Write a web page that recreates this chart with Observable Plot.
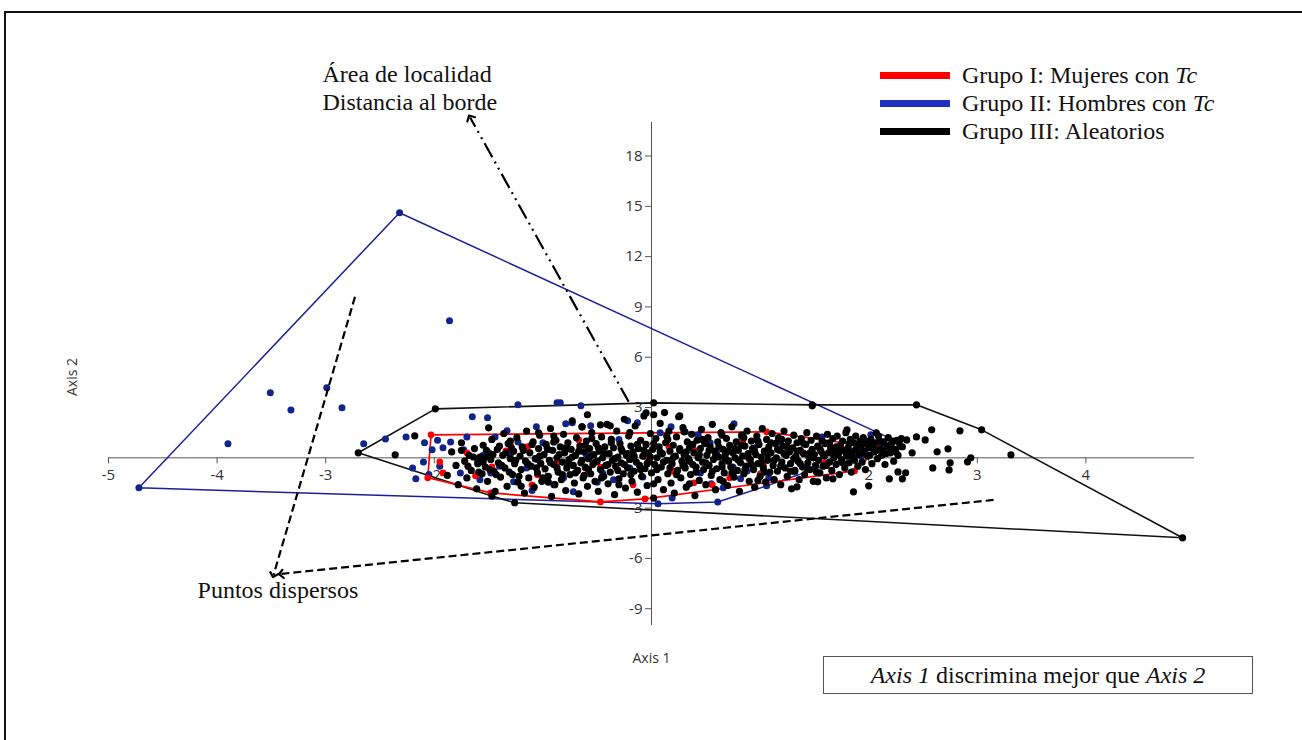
<!DOCTYPE html>
<html>
<head>
<meta charset="utf-8">
<script src="https://cdn.jsdelivr.net/npm/d3@7"></script>
<script src="https://cdn.jsdelivr.net/npm/@observablehq/plot@0.6"></script>
<style>
  body { margin: 0; background: #fff; }
  #wrap { position: relative; width: 1302px; height: 740px; overflow: hidden; background: #fff; }
  #frame { position: absolute; left: 4px; top: 11px; width: 1400px; height: 800px; border: 2px solid #111; }
  #chart { position: absolute; left: 0; top: 0; }
  .serif { font-family: "Liberation Serif", "Times New Roman", serif; font-size: 24px; color: #111; }
  #legend { position: absolute; left: 880px; top: 61px; }
  .lg-row { display: flex; align-items: center; height: 28px; }
  .lg-sw { width: 70px; height: 7px; margin-right: 12px; }
  #box { position: absolute; left: 823px; top: 656px; width: 428px; height: 36px; border: 1px solid #555;
         display: flex; align-items: center; justify-content: center; }
</style>
</head>
<body>
<div id="wrap">
  <div id="frame"></div>
  <div id="chart"></div>
  <div id="legend" class="serif"></div>
  <div id="box" class="serif"><span><i>Axis 1</i> discrimina mejor que <i>Axis 2</i></span></div>
</div>
<script>
// ---- tick values ----
const xTicks = [-5, -4, -3, -2, -1, 1, 2, 3, 4];
const yTicks = [-9, -6, -3, 3, 6, 9, 12, 15, 18];

// ---- legend ----
const groupNames = ["Grupo I: Mujeres con ", "Grupo II: Hombres con ", "Grupo III: Aleatorios"];
const groupItalic = ["Tc", "Tc", ""];
const groupColors = ["#ff0000", "#1f2fbf", "#000000"];

// ---- convex hulls (Axis 1, Axis 2) ----
const redHull = [[-2.03, 1.37], [1.06, 1.55], [2.09, 0.60], [1.87, -0.78], [-0.06, -2.45], [-0.47, -2.63], [-1.48, -2.09], [-2.06, -1.19]];
const blueHull = [[-4.72, -1.79], [-2.32, 14.62], [2.25, 1.01], [2.10, 0.66], [1.06, -1.67], [0.61, -2.63], [0.06, -2.74]];
const blackHull = [[-2.70, 0.30], [-1.99, 2.92], [0.02, 3.28], [1.48, 3.16], [2.44, 3.16], [3.04, 1.67], [4.89, -4.77], [-1.26, -2.68], [-1.47, -2.27]];

// ---- points ----
const bluePts = [
  [-3.51, 3.88], [-3.32, 2.86], [-3.90, 0.84], [-2.99, 4.18], [-2.85, 2.98], [-1.86, 8.17], [-4.72, -1.79], [-2.32, 14.62],
  [2.25, 1.01], [2.10, 0.66], [1.06, -1.67], [0.61, -2.63], [0.06, -2.74],
  [-2.65, 0.84], [-2.45, 1.13], [-2.26, 1.25], [-2.17, -1.25], [-2.09, 0.90], [-2.10, -0.25], [-2.20, -0.60], [-2.02, 0.48],
  [-1.85, 0.95], [-1.73, 0.48], [-1.76, -0.90], [-1.48, -0.90], [-1.27, -1.43], [-0.81, -1.19], [-0.72, -2.03], [-0.35, -1.31],
  [-1.05, -0.10], [-0.95, 0.48], [-1.23, 0.95], [-1.44, 1.25], [-1.23, 3.16], [-0.87, 3.28], [-0.84, 3.28], [-0.65, 3.10],
  [-1.65, 2.45], [-1.51, 2.39], [-1.33, 1.61], [-1.06, 1.85], [-0.79, 2.03], [-0.73, 2.09], [-0.56, 1.91], [-0.22, 2.21], [-0.13, 2.09],
  [0.76, 2.03], [0.83, 1.25], [1.16, 0.95], [1.57, 1.25], [1.32, -0.84], [1.08, -1.19], [0.66, -1.79], [0.82, -1.25], [0.55, -1.55],
  [0.19, -2.39], [0.18, 1.85], [0.31, 1.55], [0.43, 1.37], [0.54, 0.90], [0.08, 1.49], [-0.03, 0.06], [0.05, -0.60], [-0.08, -1.15],
  [0.45, -0.90], [0.88, -0.78], [0.75, -0.55], [2.02, 1.37], [1.93, 0.10],
  [-1.92, 0.60], [-1.95, -0.50], [-1.60, -0.20], [-1.55, 0.15], [-1.40, -0.50], [-1.30, 0.20], [-1.15, -0.60], [-1.00, 0.90],
  [-0.90, -1.60], [-0.60, 0.20], [-0.45, -0.90], [-0.30, 1.10], [-0.20, -0.60], [0.30, -0.40], [0.60, 0.30], [0.95, 0.60],
  [-1.58, -1.30], [-1.10, -1.95], [-0.50, -1.45], [-2.05, -1.00], [-1.97, 1.05], [-1.70, 1.25]
];

const redPts = [
  [-2.03, 1.37], [1.06, 1.55], [2.09, 0.60], [1.87, -0.78], [-0.06, -2.45], [-0.47, -2.63], [-1.48, -2.09], [-2.06, -1.19],
  [-1.95, -0.24], [-1.92, -0.90], [-1.62, -1.07], [-1.47, -0.54], [-1.30, 0.78], [-1.34, 0.42], [-1.14, 0.66], [-1.05, -1.01],
  [-0.87, -0.30], [-0.67, 1.07], [-0.61, -0.60], [-0.17, 0.06], [-0.47, -0.55], [-0.17, -1.61], [-1.10, -1.61], [0.39, -1.49],
  [0.56, -1.61], [0.72, -1.19], [1.00, -1.01], [1.03, -0.42], [0.84, 0.95], [-0.06, 0.06], [0.16, 0.66], [0.39, 0.48],
  [-0.80, 0.40], [0.20, -0.80], [1.40, 0.30], [1.60, -0.30], [-1.70, 0.30], [0.90, -0.10]
];

const blackPts = [
  [-2.70, 0.30], [-1.99, 2.92], [0.02, 3.28], [1.48, 3.16], [2.44, 3.16], [3.04, 1.67], [4.89, -4.77], [-1.26, -2.68], [-1.47, -2.27],
  [-2.36, 0.18], [-2.18, 1.31],
  [2.44, 1.25], [2.52, 1.07], [2.58, 1.67], [2.84, 1.61], [2.73, 0.54], [2.63, 0.36], [2.59, -0.60], [2.74, -0.72], [2.75, -0.30],
  [2.91, -0.24], [2.94, 0.00], [3.31, 0.18], [2.40, 0.30], [2.35, 1.07], [2.31, 0.66], [2.27, -0.84], [2.34, -0.89], [2.31, -1.25],
  [2.19, -1.25], [2.00, -1.67], [1.86, -2.03], [1.53, -1.43], [1.34, -1.73], [1.67, -1.25], [1.48, 3.10], [2.07, 1.49], [1.80, 1.67],
  [0.02, 2.57], [0.12, 2.70], [0.26, 2.50], [-0.59, 2.57], [-0.05, 2.68], [-0.47, 1.97], [-1.50, 1.79], [-1.04, 1.49], [-0.64, 1.85], [-0.38, 1.91],
  [-1.88, -1.05], [-1.84, 0.35], [-1.80, -0.45], [-1.78, -1.60], [-1.75, 0.90], [-1.72, -0.20], [-1.70, -1.20], [-1.68, 0.15], [-1.66, -0.75], [-1.63, 0.55], [-1.61, -1.85], [-1.60, -0.35],
  [-1.58, 0.05], [-1.56, -0.95], [-1.55, 0.75], [-1.53, -0.55], [-1.51, -1.40], [-1.50, 0.30], [-1.48, -0.10], [-1.47, 1.10], [-1.45, -0.80], [-1.44, -2.00], [-1.42, 0.50], [-1.41, -0.30], [-1.39, -1.15], [-1.37, 0.15], [-1.36, 1.45], [-1.35, -0.60], [-1.33, -1.70], [-1.32, 0.85], [-1.30, -0.05],
  [-1.28, -1.00], [-1.27, 0.40], [-1.26, -0.35], [-1.24, 1.20], [-1.23, -1.45], [-1.21, 0.10], [-1.20, -0.70], [-1.19, 0.65], [-1.17, -2.10], [-1.16, -0.20], [-1.15, 1.60], [-1.13, -1.20], [-1.12, 0.30], [-1.11, -0.50], [-1.09, 0.95], [-1.08, -1.75], [-1.07, -0.05], [-1.05, -0.90], [-1.04, 0.55], [-1.03, 1.35], [-1.02, -0.35], [-1.01, -1.40],
  [-0.99, 0.20], [-0.98, -0.65], [-0.97, 0.80], [-0.95, -1.10], [-0.94, -0.15], [-0.93, 1.75], [-0.92, -2.30], [-0.91, 0.45], [-0.90, -0.40], [-0.89, -1.60], [-0.88, 1.05], [-0.87, 0.00], [-0.86, -0.85], [-0.84, 0.65], [-0.83, -1.30], [-0.82, -0.25], [-0.81, 1.40], [-0.80, 0.30], [-0.79, -1.95], [-0.78, -0.60], [-0.77, 0.90], [-0.76, -0.10], [-0.75, -1.00], [-0.74, 0.50], [-0.73, 2.20], [-0.72, -0.45], [-0.71, -1.50],
  [-0.70, 0.15], [-0.69, 1.20], [-0.68, -0.75], [-0.67, -2.15], [-0.66, 0.70], [-0.65, -0.30], [-0.64, 1.85], [-0.63, -1.20], [-0.62, 0.35], [-0.61, -0.55], [-0.60, 1.00], [-0.59, -1.70], [-0.58, -0.05], [-0.57, 0.55], [-0.56, -0.95], [-0.55, 1.50], [-0.54, -0.40], [-0.53, 0.20], [-0.52, -1.40], [-0.51, 0.85], [-0.50, -0.20], [-0.49, -2.00], [-0.48, 0.40], [-0.47, -0.70], [-0.46, 1.25], [-0.45, 0.00], [-0.44, -1.10], [-0.43, 0.65], [-0.42, -0.45], [-0.41, 2.00],
  [-0.40, -1.55], [-0.39, 0.25], [-0.38, -0.85], [-0.37, 1.10], [-0.36, -0.15], [-0.35, 0.60], [-0.34, -2.20], [-0.33, -0.50], [-0.32, 1.60], [-0.31, 0.05], [-0.30, -1.25], [-0.29, 0.85], [-0.28, -0.30], [-0.27, 0.40], [-0.26, -0.95], [-0.25, 2.30], [-0.24, -1.80], [-0.23, 0.15], [-0.22, -0.60], [-0.21, 1.30], [-0.20, -0.10], [-0.19, 0.70], [-0.18, -1.40], [-0.17, 0.35], [-0.16, -0.80], [-0.15, 1.90], [-0.14, -0.25], [-0.13, -2.05], [-0.12, 0.55], [-0.11, -0.45], [-0.10, 1.05],
  [-0.09, -1.10], [-0.08, 0.10], [-0.07, 2.50], [-0.06, -0.65], [-0.05, 0.80], [-0.04, -1.65], [-0.03, 0.30], [-0.02, -0.20], [-0.01, 1.45], [0.00, -0.90], [0.01, 0.50], [0.02, -2.40], [0.03, -0.40], [0.04, 1.15], [0.05, 0.00], [0.06, -1.30], [0.07, 0.65], [0.08, 2.05], [0.09, -0.55], [0.10, 0.25], [0.11, -1.90], [0.13, 0.90], [0.14, -0.15], [0.15, -0.95], [0.16, 1.60], [0.17, 0.40], [0.18, -1.50], [0.19, -0.35],
  [0.20, 0.75], [0.21, -2.10], [0.22, 0.10], [0.23, 1.25], [0.24, -0.75], [0.25, 2.45], [0.26, 0.45], [0.27, -1.20], [0.28, -0.20], [0.29, 1.80], [0.30, 0.20], [0.31, -0.60], [0.32, -1.75], [0.33, 0.95], [0.34, -0.05], [0.35, 0.60], [0.36, -1.00], [0.37, 1.40], [0.38, -0.40], [0.39, 0.30], [0.40, -2.25], [0.41, -0.85], [0.42, 1.05], [0.43, 0.00], [0.44, -1.35], [0.45, 0.55], [0.46, 1.70], [0.47, -0.25], [0.48, -0.70], [0.49, 0.85],
  [0.50, -1.60], [0.51, 0.15], [0.52, 1.20], [0.53, -0.45], [0.54, 0.65], [0.55, -1.05], [0.56, 2.00], [0.57, -0.10], [0.58, 0.40], [0.59, -1.90], [0.60, -0.65], [0.61, 0.95], [0.62, 0.05], [0.63, -1.30], [0.64, 1.50], [0.65, -0.35], [0.66, 0.50], [0.67, -0.90], [0.68, 0.20], [0.69, 1.15], [0.70, -1.65], [0.71, -0.20], [0.72, 0.75], [0.73, -0.55], [0.74, 1.85], [0.75, 0.30], [0.76, -1.15], [0.77, 0.00], [0.78, 0.95], [0.79, -0.75],
  [0.80, 0.45], [0.81, -2.00], [0.82, -0.30], [0.83, 1.35], [0.84, 0.10], [0.85, -0.95], [0.86, 0.70], [0.87, -0.50], [0.88, 1.60], [0.89, 0.25], [0.90, -1.40], [0.91, -0.10], [0.92, 1.00], [0.93, 0.55], [0.94, -0.70], [0.95, -1.75], [0.96, 0.20], [0.97, 1.30], [0.98, -0.35], [0.99, 0.80], [1.00, -1.10], [1.01, 0.05], [1.02, 1.75], [1.03, -0.60], [1.04, 0.40], [1.05, -1.45], [1.06, 1.10], [1.07, -0.15], [1.08, 0.65], [1.09, -0.85],
  [1.10, 0.30], [1.11, 1.45], [1.12, -0.45], [1.13, -1.30], [1.14, 0.85], [1.15, 0.00], [1.16, -0.80], [1.17, 1.20], [1.18, 0.45], [1.19, -1.60], [1.20, -0.25], [1.21, 0.70], [1.22, 1.60], [1.23, -0.60], [1.24, 0.15], [1.25, -1.10], [1.26, 1.00], [1.27, 0.35], [1.28, -0.35], [1.29, -1.85], [1.30, 0.60], [1.31, 1.35], [1.32, -0.75], [1.33, 0.10], [1.34, 0.90], [1.35, -0.20], [1.36, -1.30], [1.37, 0.45], [1.38, 1.15], [1.39, -0.55],
  [1.40, 0.25], [1.41, -1.00], [1.42, 0.80], [1.43, 1.50], [1.44, -0.30], [1.45, 0.05], [1.46, -0.70], [1.47, 1.05], [1.48, 0.50], [1.49, -1.40], [1.50, 0.20], [1.51, -0.45], [1.52, 1.30], [1.53, 0.70], [1.54, -0.15], [1.55, -0.90], [1.56, 0.40], [1.57, 1.00], [1.58, -0.50], [1.59, 0.10], [1.60, 0.85], [1.61, -1.20], [1.62, 1.40], [1.63, 0.30], [1.64, -0.25], [1.65, 0.60], [1.66, -0.75], [1.67, 1.15], [1.68, 0.00], [1.69, 0.50],
  [1.70, -0.40], [1.71, 1.30], [1.72, 0.20], [1.73, -1.00], [1.74, 0.75], [1.75, -0.10], [1.76, 1.00], [1.77, 0.45], [1.78, -0.60], [1.79, 1.50], [1.80, 0.10], [1.81, 0.60], [1.82, -0.30], [1.83, 1.10], [1.84, -0.85], [1.85, 0.35], [1.86, 0.90], [1.87, -0.15], [1.88, 1.30], [1.89, 0.55], [1.90, -0.50], [1.91, 0.20], [1.92, 1.00], [1.93, 0.70], [1.94, -0.25], [1.95, 1.20], [1.96, 0.40], [1.97, -0.70], [1.98, 0.85], [1.99, 0.10],
  [2.00, 0.60], [2.02, 1.10], [2.03, -0.35], [2.05, 0.35], [2.06, 0.90], [2.08, -0.05], [2.09, 1.30], [2.11, 0.55], [2.12, 0.15], [2.14, 0.95], [2.15, -0.40], [2.17, 0.70], [2.18, 1.20], [2.20, 0.30], [2.21, 0.85], [2.23, -0.20], [2.24, 0.50], [2.26, 1.05], [2.27, 0.15], [2.29, 0.70], [2.30, 1.15],
  [-1.55, -0.25], [-1.52, 0.45], [-1.49, -0.70], [-1.46, 0.20], [-1.43, -1.00], [-1.40, 0.70], [-1.38, -0.45], [-1.34, 0.30], [-1.31, -0.85], [-1.29, 0.60],
  [-1.25, -0.15], [-1.22, -1.10], [-1.18, 0.45], [-1.14, -0.35], [-1.10, 0.80], [-1.06, -0.60], [-1.03, 0.10], [-1.00, -1.20], [-0.96, 0.55], [-0.93, -0.30],
  [-0.90, 0.95], [-0.87, -0.60], [-0.85, 0.20], [-0.82, -1.00], [-0.79, 0.60], [-0.76, -0.35], [-0.73, 0.05], [-0.70, -0.90], [-0.67, 0.40], [-0.64, -0.15],
  [-0.61, 0.75], [-0.58, -0.70], [-0.55, 0.15], [-0.52, -0.25], [-0.49, 0.60], [-0.46, -1.20], [-0.43, 0.25], [-0.40, -0.40], [-0.37, 0.90], [-0.34, -0.05],
  [-0.31, -0.75], [-0.28, 0.55], [-0.25, -0.40], [-0.22, 0.25], [-0.19, -1.00], [-0.16, 0.10], [-0.13, 0.80], [-0.10, -0.70], [-0.07, 0.45], [-0.04, -0.35],
  [-0.01, 0.05], [0.02, 0.85], [0.05, -0.70], [0.08, 0.35], [0.11, -0.25], [0.14, 1.30], [0.17, -0.60], [0.20, 0.00], [0.23, -1.00], [0.26, 0.55],
  [0.29, -0.45], [0.32, 0.35], [0.35, -0.20], [0.38, 0.80], [0.41, -0.55], [0.44, 0.20], [0.47, 1.10], [0.50, -0.30], [0.53, 0.45], [0.56, -0.80],
  [0.59, 0.10], [0.62, 0.65], [0.65, -0.55], [0.68, -0.05], [0.71, 0.40], [0.74, -0.90], [0.77, 0.55], [0.80, -0.15], [0.83, 0.75], [0.86, -0.70],
  [0.89, 0.05], [0.92, -0.40], [0.95, 0.35], [0.98, 1.00], [1.01, -0.30], [1.04, -0.85], [1.07, 0.20], [1.10, 0.90], [1.13, -0.15], [1.16, 0.50],
  [1.19, -0.50], [1.22, 0.25], [1.25, 0.65], [1.28, -0.80], [1.31, -0.05], [1.34, 0.40], [1.37, -0.35], [1.40, 0.85], [1.43, -0.60], [1.46, 0.30],
  [1.49, 0.00], [1.52, -0.85], [1.55, 0.55], [1.58, 0.20], [1.61, -0.45], [1.64, 0.90], [1.67, 0.25], [1.70, 0.65], [1.73, 0.40], [1.76, -0.30],
  [1.79, 0.30], [1.82, 0.85], [1.85, 0.05], [1.88, 0.50], [1.91, 0.75], [1.94, 0.30], [1.97, 1.00], [2.01, 0.15], [2.04, 0.75], [2.07, 0.45],
  [2.10, 1.00], [2.13, 0.40], [2.16, 0.25], [2.19, 0.65], [2.22, 1.00], [2.25, 0.35], [2.28, 0.90], [-1.75, 0.45], [-1.69, -0.50], [-1.64, 0.05],
  [-1.59, -0.85], [-1.53, 0.05], [-0.95, -1.45], [-0.62, -1.05], [-0.30, -1.60], [0.02, -1.55], [0.35, -1.55], [0.66, -1.40], [0.98, -1.35], [-1.20, -1.70],
  [-0.55, 1.15], [-0.20, 1.50], [0.15, 1.10], [0.50, 0.95], [0.85, 1.20], [1.20, 1.10], [-0.90, 1.30], [-1.30, 1.00], [0.30, 1.55], [0.65, 1.35]
];

// ---- annotations (data coordinates) ----
const topNotes = [
  {x: -3.03, y: 22.9, text: "Área de localidad"},
  {x: -3.03, y: 21.2, text: "Distancia al borde"}
];
const bottomNotes = [{x: -3.44, y: -7.9, text: "Puntos dispersos"}];
const dashDotArrows = [{x1: -0.21, y1: 3.34, x2: -1.67, y2: 20.3}];
const dashedArrows = [
  {x1: -2.73, y1: 9.61, x2: -3.48, y2: -6.98},
  {x1: 3.15, y1: -2.51, x2: -3.41, y2: -6.92}
];

const closeRing = pts => pts.concat([pts[0]]).map(([x, y]) => ({x, y}));
const toObj = pts => pts.map(([x, y]) => ({x, y}));

const axisColor = "#555";
const labelColor = "#333";
const serif = "'Liberation Serif', 'Times New Roman', serif";

const chart = Plot.plot({
  width: 1302,
  height: 740,
  marginLeft: 108,
  marginRight: 108,
  marginTop: 122,
  marginBottom: 115,
  x: {domain: [-5, 5], axis: null},
  y: {domain: [-10, 20], axis: null},
  style: {background: "transparent", fontFamily: "'Open Sans', sans-serif", overflow: "visible"},
  marks: [
    // axes through the origin
    Plot.ruleY([0], {x1: -5, x2: 5, stroke: axisColor, strokeWidth: 1}),
    Plot.ruleX([0], {y1: -10, y2: 20, stroke: axisColor, strokeWidth: 1}),
    Plot.ruleX(xTicks, {x: d => d, y1: 0, y2: 0, insetBottom: -6, stroke: axisColor}),
    Plot.ruleY(yTicks, {y: d => d, x1: 0, x2: 0, insetLeft: -6, stroke: axisColor}),
    Plot.text(xTicks, {x: d => d, y: 0, dy: 17, text: d => String(d), fill: labelColor, fontSize: 15}),
    Plot.text(yTicks, {x: 0, y: d => d, dx: -9, text: d => String(d), textAnchor: "end", fill: labelColor, fontSize: 15}),
    Plot.text(["Axis 1"], {frameAnchor: "bottom", dy: 37, fill: labelColor, fontSize: 14}),
    Plot.text(["Axis 2"], {frameAnchor: "left", dx: -36, dy: 22, rotate: -90, fill: labelColor, fontSize: 14}),
    // hulls
    Plot.line(closeRing(blueHull), {x: "x", y: "y", stroke: "#1f1f99", strokeWidth: 1.5}),
    Plot.line(closeRing(blackHull), {x: "x", y: "y", stroke: "#111", strokeWidth: 1.6}),
    Plot.line(closeRing(redHull), {x: "x", y: "y", stroke: "#ff0000", strokeWidth: 1.7}),
    // points
    Plot.dot(toObj(bluePts), {x: "x", y: "y", r: 3.5, fill: "#11248a", stroke: "none"}),
    Plot.dot(toObj(redPts), {x: "x", y: "y", r: 3.4, fill: "#ff0000", stroke: "none"}),
    Plot.dot(toObj(blackPts), {x: "x", y: "y", r: 3.6, fill: "#000", stroke: "none"}),
    // annotations
    Plot.link(dashDotArrows, {x1: "x1", y1: "y1", x2: "x2", y2: "y2", stroke: "#000", strokeWidth: 2.2,
      strokeDasharray: "16,5,2,5,2,5", markerEnd: "arrow"}),
    Plot.link(dashedArrows, {x1: "x1", y1: "y1", x2: "x2", y2: "y2", stroke: "#000", strokeWidth: 2.2,
      strokeDasharray: "8,4", markerEnd: "arrow"}),
    Plot.text(topNotes, {x: "x", y: "y", text: "text", textAnchor: "start", fill: "#111", fontSize: 24, fontFamily: serif}),
    Plot.text(bottomNotes, {x: "x", y: "y", text: "text", textAnchor: "middle", fill: "#111", fontSize: 24, fontFamily: serif})
  ]
});
document.getElementById("chart").appendChild(chart);

// legend
const legend = document.getElementById("legend");
groupNames.forEach((name, i) => {
  const row = document.createElement("div");
  row.className = "lg-row";
  const sw = document.createElement("div");
  sw.className = "lg-sw";
  sw.style.background = groupColors[i];
  const label = document.createElement("span");
  label.textContent = name;
  if (groupItalic[i]) {
    const it = document.createElement("i");
    it.textContent = groupItalic[i];
    label.appendChild(it);
  }
  row.appendChild(sw);
  row.appendChild(label);
  legend.appendChild(row);
});
</script>
</body>
</html>
